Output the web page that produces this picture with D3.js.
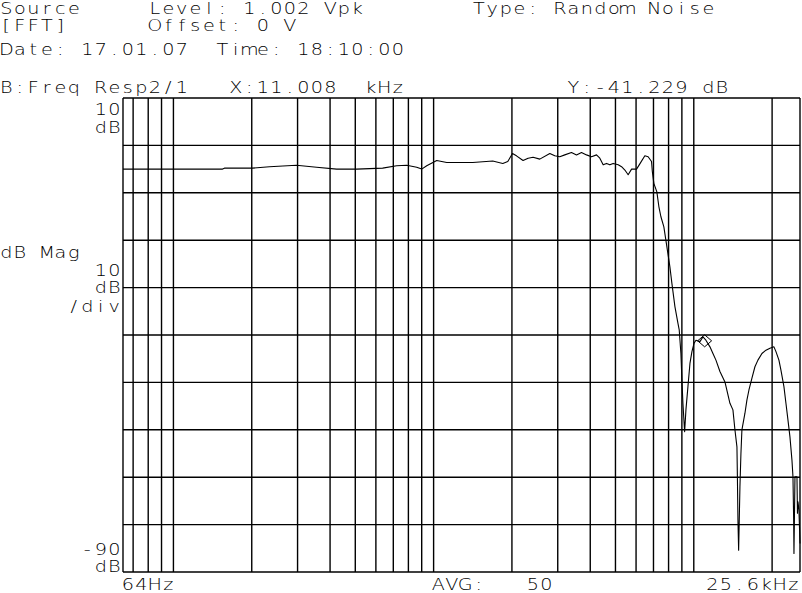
<!DOCTYPE html>
<html>
<head>
<meta charset="utf-8">
<script src="https://cdn.jsdelivr.net/npm/d3@7"></script>
<style>
  html, body { margin: 0; padding: 0; background: #fff; }
  svg { display: block; }
</style>
</head>
<body>
<svg id="chart" width="802" height="593"></svg>
<script>
// ---------- data ----------
const freqHz = [64,154.5,157,201,234,297,355,424,506,637,
  721,788,861,900,941,1028,1123,1414,1688,1845,
  1928,2010,2082,2207,2308,2412,2559,2797,2922,3054,
  3193,3388,3542,3702,3870,4045,4228,4354,4484,4621,
  4758,4899,5122,5278,5434,5594,5766,6026,6204,6485,
  6676,6880,6929,7023,7212,7341,7472,7673,7811,7951,
  8094,8239,8462,8690,8790,8923,9003,9083,9222,9329,
  9496,9666,9838,10014,10193,10557,10842,11132,11538,11848,
  12166,12604,13175,13771,14141,14393,14651,14716,14781,14873,
  15045,15178,15311,15726,16007,16293,16731,17180,17641,18278,
  18937,19621,20329,20693,21244,21626,22207,22605,23009,23421,
  23841,24053,24202,24268,24484,24922,25032,25142,25362,25600];
const magDb = [-5.0,-5.0,-4.8,-4.8,-4.5,-4.2,-4.6,-5.0,-5.0,-4.8,
  -4.3,-4.2,-4.6,-5.0,-4.3,-3.2,-3.6,-3.6,-3.3,-3.8,
  -3.4,-1.7,-2.2,-3.2,-2.7,-2.5,-2.9,-1.7,-2.2,-2.4,
  -2.0,-1.5,-2.0,-1.5,-2.0,-2.4,-2.0,-2.7,-4.1,-3.8,
  -4.1,-3.8,-4.1,-4.5,-5.2,-6.2,-5.0,-5.0,-3.9,-2.2,
  -2.4,-3.4,-5.5,-8.0,-9.8,-12.9,-15.0,-17.2,-20.0,-22.8,
  -25.6,-29.1,-34.0,-37.5,-38.9,-43.9,-49.5,-54.4,-60.4,-55.8,
  -50.9,-46.0,-43.5,-41.8,-41.1,-41.4,-40.4,-41.1,-42.5,-43.9,
  -45.3,-47.7,-49.9,-54.4,-55.8,-60.0,-63.6,-70.6,-79.0,-85.4,
  -72.0,-65.0,-60.0,-56.5,-53.7,-51.6,-49.1,-46.7,-45.3,-43.9,
  -43.2,-42.8,-42.5,-43.5,-45.3,-47.4,-50.9,-54.4,-57.9,-61.5,
  -66.4,-69.9,-79.0,-86.1,-69.9,-69.9,-77.6,-75.2,-76.9,-84.0];

const freqDomain = [64, 25600];
const dbDomain = [-90, 10];
const freqGrid = [70,80,90,100,200,300,400,500,600,700,800,900,
  1000,2000,3000,4000,5000,6000,7000,8000,9000,10000,20000];
const dbGrid = [-80,-70,-60,-50,-40,-30,-20,-10,0];
const markerFreq = 11008;
const markerDb = -41.229;

// header / annotation texts: [column, row baseline key, text]
const headerTexts = [
  [0, "r1", "Source"], [11, "r1", "Level: 1.002 Vpk"], [35, "r1", "Type: Random Noise"],
  [0, "r2", "[FFT]"], [11, "r2", "Offset: 0 V"],
  [0, "r3", "Date: 17.01.07  Time: 18:10:00"],
  [0, "r4", "B:Freq Resp2/1   X:11.008  kHz"], [42, "r4", "Y:-41.229 dB"]
];
const yAxisTexts = [
  [7, "top1", "10"], [7, "top2", "dB"],
  [0, "mag", "dB Mag"],
  [7, "div1", "10"], [7, "div2", "dB"], [5, "div3", "/div"],
  [6, "bot1", "-90"], [7, "bot2", "dB"]
];
const footerTexts = [
  [9, "foot", "64Hz"], [32, "foot", "AVG:"], [39, "foot", "50"], [52.3, "foot", "25.6kHz"]
];

// ---------- layout ----------
const baselines = { r1: 13.5, r2: 31, r3: 54.5, r4: 92.5,
  top1: 115, top2: 132.5, mag: 257.5, div1: 275.5, div2: 293, div3: 311.5,
  bot1: 554.5, bot2: 571.5, foot: 589.5 };
const pitch = 13.5, sx = 1.2;

const svg = d3.select("#chart");
const x = d3.scaleLog().domain(freqDomain).range([123, 800]);
const y = d3.scaleLinear().domain(dbDomain).range([572, 98]);

const gGrid = svg.append("g").attr("stroke", "#000").attr("stroke-width", 1.4).attr("fill", "none");
gGrid.selectAll("line.v").data(freqGrid.concat(freqDomain)).join("line")
  .attr("x1", d => x(d)).attr("x2", d => x(d)).attr("y1", y(dbDomain[1])).attr("y2", y(dbDomain[0]));
gGrid.selectAll("line.h").data(dbGrid.concat(dbDomain)).join("line")
  .attr("class", "h")
  .attr("x1", x(freqDomain[0])).attr("x2", x(freqDomain[1])).attr("y1", d => y(d)).attr("y2", d => y(d));

// trace
const pts = d3.zip(freqHz, magDb);
svg.append("path").datum(pts)
  .attr("fill", "none").attr("stroke", "#000").attr("stroke-width", 1.1)
  .attr("stroke-linejoin", "round")
  .attr("d", d3.line().x(d => x(d[0])).y(d => y(d[1])));

// marker diamond
const mx = x(markerFreq), my = y(markerDb);
svg.append("path")
  .attr("fill", "none").attr("stroke", "#000").attr("stroke-width", 1)
  .attr("d", `M${mx - 7},${my} L${mx},${my - 6} L${mx + 7},${my} L${mx},${my + 6} Z`);

// monospace grid text
function gridText(items) {
  items.forEach(([col, key, str]) => {
    const g = svg.append("g").attr("transform", `translate(0,${baselines[key]}) scale(${sx},1)`);
    const chars = Array.from(str);
    const xs = chars.map((c, i) => ((col + i) * pitch + 6.3) / sx);
    g.append("text")
      .attr("x", xs.join(" "))
      .attr("y", 0)
      .attr("text-anchor", "middle")
      .attr("font-family", "'DejaVu Sans', sans-serif")
      .attr("font-weight", 200)
      .attr("font-size", 16)
      .attr("fill", "#000")
      .attr("xml:space", "preserve")
      .text(str);
  });
}
gridText(headerTexts);
gridText(yAxisTexts);
gridText(footerTexts);
</script>
</body>
</html>
